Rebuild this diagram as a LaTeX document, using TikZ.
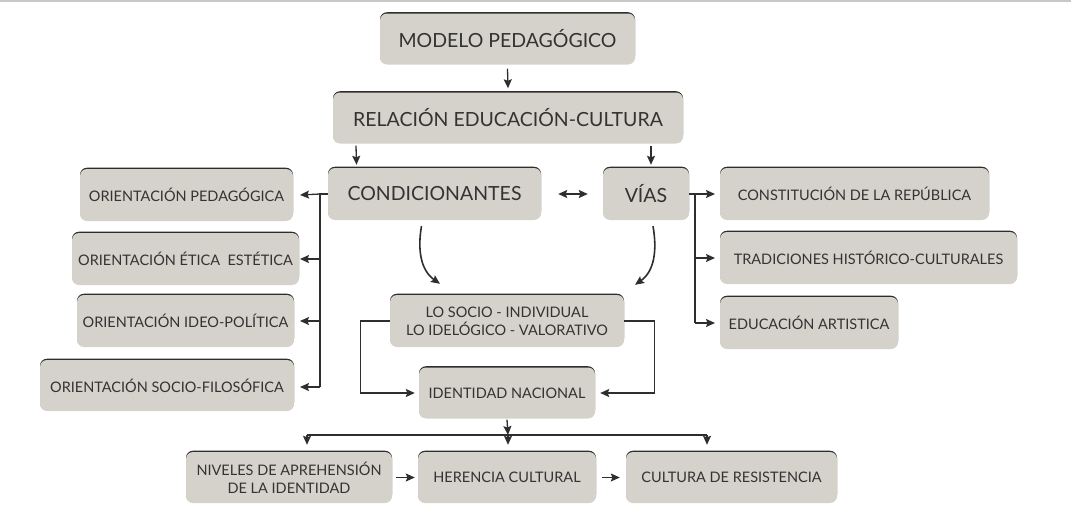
\documentclass[tikz,border=0pt]{standalone}
\usepackage{fontspec}
\setmainfont{Lato}
\usetikzlibrary{arrows.meta}
\definecolor{boxgray}{HTML}{D4D2CA}
\definecolor{edgedark}{HTML}{2E2E2E}
\definecolor{txt}{HTML}{333333}
\definecolor{topline}{HTML}{C8C8C8}
\tikzset{
  box/.style={rounded corners=7pt, fill=boxgray, text=txt, align=center, inner sep=0pt,
    preaction={fill=edgedark, transform canvas={yshift=1.3pt}}},
  tip/.tip={Stealth[length=9pt,width=8pt,inset=1.5pt]},
  conn/.style={draw=edgedark, line width=1.3pt, -tip},
  line/.style={draw=edgedark, line width=1.3pt},
  big/.style={font=\fontsize{19.5}{22}\selectfont},
  small/.style={font=\fontsize{14.5}{18}\selectfont},
}
\begin{document}
\begin{tikzpicture}[x=1pt,y=-1pt]
\useasboundingbox (0,0) rectangle (1071,530);
\draw[topline, line width=1.5pt] (0,0.75) -- (1071,0.75);

% boxes
\node[box,big,minimum width=255,minimum height=51] (mp) at (507.5,39) {MODELO PEDAGÓGICO};
\node[box,big,minimum width=350,minimum height=51] (rec) at (508,118) {RELACIÓN EDUCACIÓN-CULTURA};
\node[box,big,minimum width=213,minimum height=52] (cond) at (434.5,194) {CONDICIONANTES};
\node[box,big,minimum width=86,minimum height=52] (vias) at (646,194) {VÍAS};

\node[box,small,minimum width=213,minimum height=52] (op) at (186.5,195) {ORIENTACIÓN PEDAGÓGICA};
\node[box,small,minimum width=227,minimum height=52] (oe) at (185.5,259) {ORIENTACIÓN ÉTICA\ \ ESTÉTICA};
\node[box,small,minimum width=217,minimum height=52] (oi) at (185.5,321) {ORIENTACIÓN IDEO-POLÍTICA};
\node[box,small,minimum width=254,minimum height=51] (os) at (167,385.5) {ORIENTACIÓN SOCIO-FILOSÓFICA};

\node[box,small,minimum width=269,minimum height=52] (cr) at (854.5,194) {CONSTITUCIÓN DE LA REPÚBLICA};
\node[box,small,minimum width=297,minimum height=52] (th) at (868.5,258) {TRADICIONES HISTÓRICO-CULTURALES};
\node[box,small,minimum width=178,minimum height=52] (ea) at (809,323) {EDUCACIÓN ARTISTICA};

\node[box,small,minimum width=234,minimum height=52] (soc) at (507,321) {LO SOCIO - INDIVIDUAL\\LO IDELÓGICO - VALORATIVO};
\node[box,small,minimum width=176,minimum height=51] (idn) at (507,393) {IDENTIDAD NACIONAL};

\node[box,small,minimum width=206,minimum height=51] (niv) at (289,477.5) {NIVELES DE APREHENSIÓN\\DE LA IDENTIDAD};
\node[box,small,minimum width=178,minimum height=51] (her) at (507,477.5) {HERENCIA CULTURAL};
\node[box,small,minimum width=211,minimum height=51] (cul) at (731.5,477.5) {CULTURA DE RESISTENCIA};

% coordinates
\coordinate (lb) at (320,194);
\coordinate (lbe) at (320,387);
\coordinate (lt) at (300,0);
\coordinate (rb) at (695,194);
\coordinate (rbe) at (695,323);
\coordinate (rt) at (715,0);
\coordinate (hb) at (508,435);
\coordinate (ha) at (307,435);
\coordinate (hc) at (707,435);

% top arrows
\draw[conn] ([yshift=-4pt]mp.south) -- ([yshift=4pt]rec.north);
\draw[conn] ([xshift=-152pt,yshift=-2pt]rec.south) -- ([xshift=-78pt,yshift=3pt]cond.north);
\draw[conn] ([xshift=143pt,yshift=-2pt]rec.south) -- ([xshift=5pt,yshift=3pt]vias.north);
\draw[conn,tip-tip] ([xshift=17pt]cond.east) -- ([xshift=-15pt]vias.west);

% left bus
\draw[line] (cond.west) -- (lb) -- (lbe);
\draw[conn] (lb) -- (op.east -| lt);
\draw[conn] (lb |- oe.east) -- (oe.east -| lt);
\draw[conn] (lb |- oi.east) -- (oi.east -| lt);
\draw[conn] (lbe) -- (lbe -| lt);

% right bus
\draw[line] (vias.east) -- (rb) -- (rbe);
\draw[conn] (rb) -- (rb -| rt);
\draw[conn] (rb |- th.west) -- (th.west -| rt);
\draw[conn] (rbe) -- (rbe -| rt);

% curved arrows
\draw[conn,line width=1.6pt] ([xshift=-13pt,yshift=-6pt]cond.south) to[out=-100,in=145] ([xshift=-67pt,yshift=11pt]soc.north);
\draw[conn,line width=1.6pt] ([xshift=7pt,yshift=-6pt]vias.south) to[out=-80,in=35] ([xshift=128pt,yshift=10pt]soc.north);

% loops
\draw[conn,shorten >=4pt] (soc.west) -- ++(-29,0) |- (idn.west);
\draw[conn,shorten >=5pt] (soc.east) -- ++(30,0) |- (idn.east);

% bottom
\draw[conn] ([yshift=-1pt]idn.south) -- (hb);
\draw[line] (ha) -- (hc);
\draw[conn] (ha) -- ([yshift=7pt]ha |- niv.north);
\draw[conn] (hb) -- ([yshift=7pt]hb |- her.north);
\draw[conn] (hc) -- ([yshift=7pt]hc |- cul.north);
\draw[conn,shorten <=4pt,shorten >=3pt] (niv.east) -- (her.west);
\draw[conn,shorten <=6pt,shorten >=6pt] (her.east) -- (cul.west);
\end{tikzpicture}
\end{document}
